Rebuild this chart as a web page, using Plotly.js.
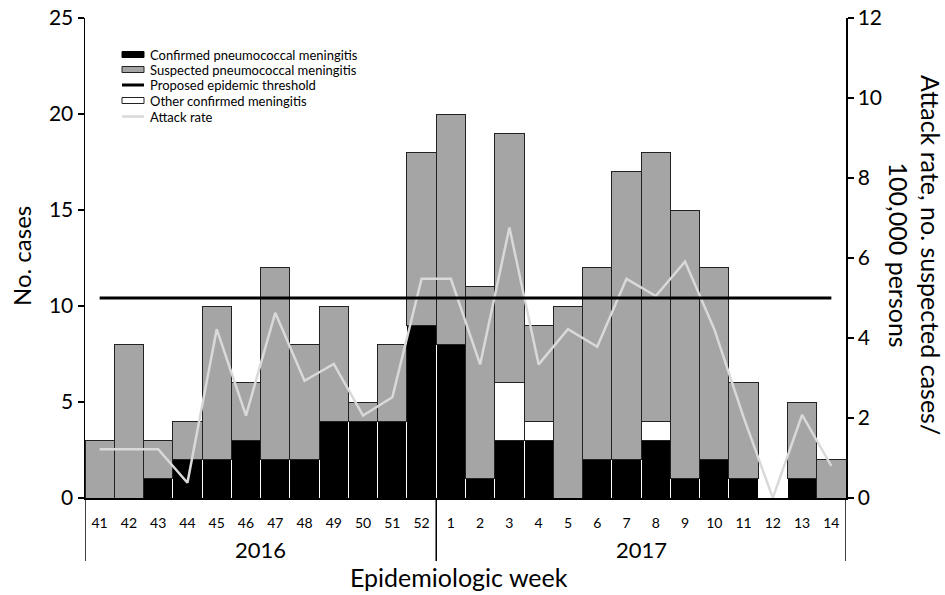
<!DOCTYPE html>
<html><head><meta charset="utf-8">
<script src="https://cdn.plot.ly/plotly-3.0.1.min.js"></script>
<style>body{margin:0;background:#fff}#chart{width:945px;height:595px}</style>
</head><body><div id="chart"></div>
<script>
// ---- data ----
const weeks = ['41','42','43','44','45','46','47','48','49','50','51','52','1','2','3','4','5','6','7','8','9','10','11','12','13','14'];
const confirmed      = [0,0,1,2,2,3,2,2,4,4,4,9,8,1,3,3,0,2,2,3,1,2,1,0,1,0];
const otherConfirmed = [0,0,0,0,0,0,0,0,0,0,0,0,0,0,3,1,0,0,0,1,0,0,0,0,0,0];
const suspected      = [3,8,2,2,8,3,10,6,6,1,4,9,12,10,13,5,10,10,15,14,14,10,5,0,4,2];
const attackRate     = [1.22,1.22,1.22,0.38,4.22,2.06,4.63,2.93,3.35,2.06,2.52,5.48,5.48,3.34,6.76,3.34,4.22,3.78,5.48,5.05,5.91,4.22,2.02,0,2.08,0.8];
const thresholdRate  = 5;
const years = ['2016','2017'];
const yearWeekCounts = [12,14];
const legendLabels = ['Confirmed pneumococcal meningitis','Suspected pneumococcal meningitis','Proposed epidemic threshold','Other confirmed meningitis','Attack rate'];

const FONT = 'Lato, "Open Sans", sans-serif';
const nz = a => a.map(v => v === 0 ? null : v);

const traces = [
  {type:'bar', x:weeks, y:nz(confirmed), name:legendLabels[0], marker:{color:'#000000', line:{color:'#ffffff', width:1}}, showlegend:false},
  {type:'bar', x:weeks, y:nz(otherConfirmed), name:legendLabels[3], marker:{color:'#ffffff', line:{color:'#222222', width:1}}, showlegend:false},
  {type:'bar', x:weeks, y:nz(suspected), name:legendLabels[1], marker:{color:'#a5a5a5', line:{color:'#222222', width:1}}, showlegend:false},
  {type:'scatter', mode:'lines', x:weeks, y:attackRate, yaxis:'y2', name:legendLabels[4], line:{color:'#d9d9d9', width:2.5}, showlegend:false},
  {type:'scatter', mode:'lines', x:weeks, y:weeks.map(()=>thresholdRate), yaxis:'y2', name:legendLabels[2], line:{color:'#000000', width:3}, showlegend:false}
];

// plot geometry helpers (paper coords)
const L=85, R=846, T=18, B=498;
const px = v => (v - L)/(R - L);
const py = v => (B - v)/(B - T);

const shapes = [];
const annotations = [];

// year separators
let idx = -0.5;
const seps = [idx];
yearWeekCounts.forEach(c => { idx += c; seps.push(idx); });
seps.forEach(s => shapes.push({type:'line', xref:'x', yref:'paper', x0:s, x1:s, y0:0, y1:py(561), line:{color:'#000', width:1.5}}));
// year labels
let start = 0;
years.forEach((yr,i) => {
  const c = start + (yearWeekCounts[i]-1)/2;
  annotations.push({xref:'x', yref:'paper', x:c, y:py(549), text:yr, showarrow:false, font:{family:FONT, size:22, color:'#000'}, xanchor:'center', yanchor:'middle'});
  start += yearWeekCounts[i];
});
// x title
annotations.push({xref:'paper', yref:'paper', x:px(459), y:py(577), text:'Epidemiologic week', showarrow:false, font:{family:FONT, size:25, color:'#000'}, xanchor:'center', yanchor:'middle'});
// left title
annotations.push({xref:'paper', yref:'paper', x:px(21), y:py(256), text:'No. cases', textangle:-90, showarrow:false, font:{family:FONT, size:24, color:'#000'}, xanchor:'center', yanchor:'middle'});
// right title
annotations.push({xref:'paper', yref:'paper', x:px(915), y:py(255), text:'Attack rate, no. suspected cases/<br>100,000 persons', textangle:90, showarrow:false, font:{family:FONT, size:25, color:'#000'}, xanchor:'center', yanchor:'middle'});

// manual legend
const legY = [54.5, 69.5, 85, 100.5, 116.5];
const kinds = [
  {k:'box', fill:'#000', line:'#000'},
  {k:'box', fill:'#a5a5a5', line:'#222'},
  {k:'line', color:'#000', w:3},
  {k:'box', fill:'#fff', line:'#222'},
  {k:'line', color:'#d9d9d9', w:2.5}
];
kinds.forEach((s,i) => {
  const yc = legY[i];
  if (s.k === 'box') {
    shapes.push({type:'rect', xref:'paper', yref:'paper', x0:px(122), x1:px(144), y0:py(yc-3), y1:py(yc+3), fillcolor:s.fill, line:{color:s.line, width:1}});
  } else {
    shapes.push({type:'line', xref:'paper', yref:'paper', x0:px(122), x1:px(144), y0:py(yc), y1:py(yc), line:{color:s.color, width:s.w}});
  }
  annotations.push({xref:'paper', yref:'paper', x:px(148), y:py(yc), text:legendLabels[i], showarrow:false, xanchor:'left', yanchor:'middle', font:{family:FONT, size:13, color:'#000'}});
});

const layout = {
  width:945, height:595,
  margin:{l:L, r:945-R, t:T, b:595-B},
  paper_bgcolor:'#fff', plot_bgcolor:'#fff',
  barmode:'stack', bargap:0,
  font:{family:FONT, color:'#000'},
  showlegend:false,
  xaxis:{type:'category', categoryorder:'array', categoryarray:weeks, range:[-0.5, weeks.length-0.5],
    showline:true, linecolor:'#000', linewidth:1.5, ticks:'outside', ticklen:12, tickcolor:'rgba(0,0,0,0)',
    tickfont:{family:FONT, size:14, color:'#000'}, showgrid:false, zeroline:false, fixedrange:true},
  yaxis:{range:[0,25], dtick:5, showline:true, linecolor:'#000', linewidth:1.5, ticks:'outside', ticklen:6, tickwidth:1.5, tickcolor:'#000',
    tickfont:{family:FONT, size:21, color:'#000'}, showgrid:false, zeroline:false},
  yaxis2:{overlaying:'y', side:'right', range:[0,12], dtick:2, showline:true, linecolor:'#000', linewidth:1.5, ticks:'outside', ticklen:6, tickwidth:1.5, tickcolor:'#000',
    tickfont:{family:FONT, size:21, color:'#000'}, showgrid:false, zeroline:false},
  shapes, annotations
};

Plotly.newPlot('chart', traces, layout, {staticPlot:true, displayModeBar:false});
</script>
</body></html>
